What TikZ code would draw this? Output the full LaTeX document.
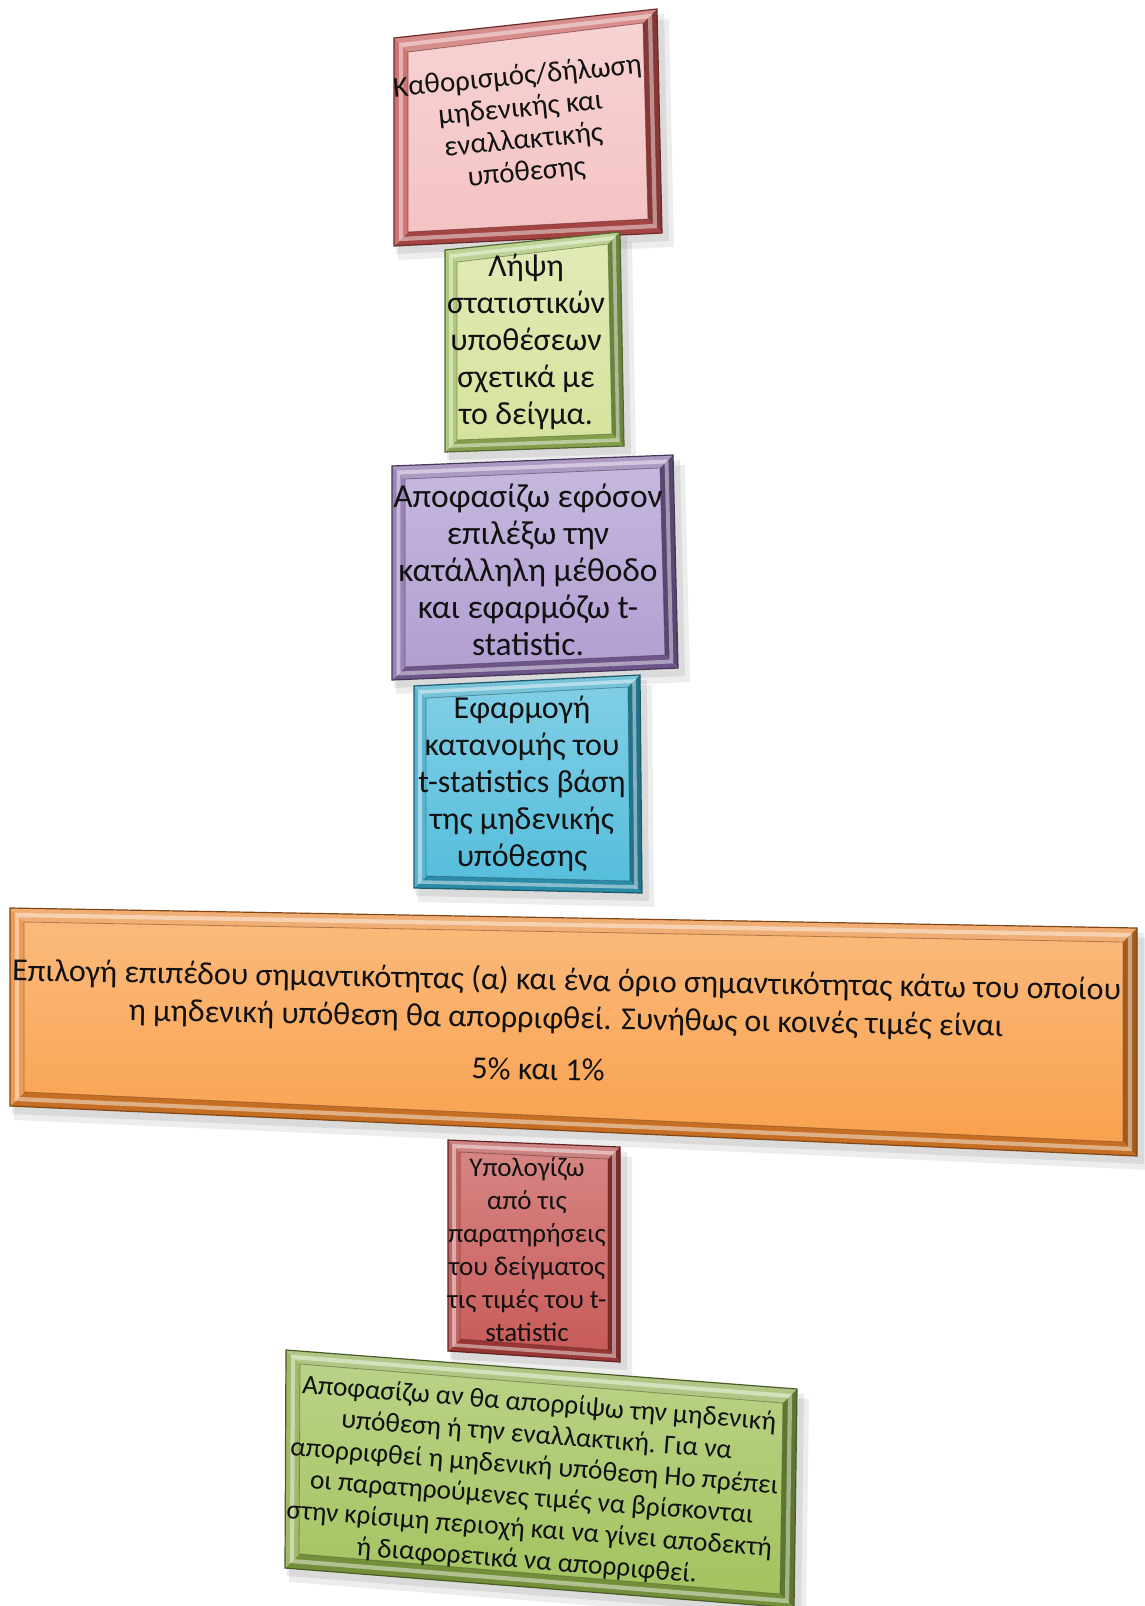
\documentclass[tikz,border=0pt]{standalone}
\usepackage{fontspec}
\setmainfont{Carlito}
\usetikzlibrary{calc}
\definecolor{faceA}{HTML}{F4C3C4}\definecolor{baseA}{HTML}{C0504D}
\definecolor{faceB}{HTML}{D6E39D}\definecolor{baseB}{HTML}{9BBB59}
\definecolor{faceC}{HTML}{B29FD2}\definecolor{baseC}{HTML}{8064A2}
\definecolor{faceD}{HTML}{56BEDC}\definecolor{baseD}{HTML}{31A3C4}
\definecolor{faceE}{HTML}{F9A24F}\definecolor{baseE}{HTML}{E8822A}
\definecolor{faceF}{HTML}{C85C5A}\definecolor{baseF}{HTML}{B0403E}
\definecolor{faceG}{HTML}{A3C35F}\definecolor{baseG}{HTML}{87A844}
\definecolor{ink}{HTML}{111111}
\tikzset{txt/.style={align=center,text=ink,inner sep=0pt}}
% #1 prefix, #2 TL, #3 TR, #4 BR, #5 BL, #6 bevel, #7 face, #8 base
\newcommand\bevbox[8]{%
 \coordinate (#1a) at (#2);\coordinate (#1b) at (#3);
 \coordinate (#1c) at (#4);\coordinate (#1d) at (#5);
 \coordinate (#1A) at ($(#1a)+(#6,#6)$);\coordinate (#1B) at ($(#1b)+(-#6,#6)$);
 \coordinate (#1C) at ($(#1c)+(-#6,-#6)$);\coordinate (#1D) at ($(#1d)+(#6,-#6)$);
 \coordinate (#1p) at ($(#1a)!.5!(#1A)$);\coordinate (#1q) at ($(#1b)!.5!(#1B)$);
 \coordinate (#1r) at ($(#1c)!.5!(#1C)$);\coordinate (#1s) at ($(#1d)!.5!(#1D)$);
 \fill[black,opacity=.07] ($(#1a)+(4,10)$) -- ($(#1b)+(12,10)$) -- ($(#1c)+(12,14)$) -- ($(#1d)+(4,14)$) -- cycle;
 \fill[black,opacity=.08] ($(#1a)+(2,5)$) -- ($(#1b)+(7,5)$) -- ($(#1c)+(7,8)$) -- ($(#1d)+(2,8)$) -- cycle;
 \shade[top color=#7!75!white,bottom color=#7] (#1A) -- (#1B) -- (#1C) -- (#1D) -- cycle;
 \fill[#8!65!white] (#1a) -- (#1b) -- (#1B) -- (#1A) -- cycle;
 \fill[#8!70!black] (#1b) -- (#1c) -- (#1C) -- (#1B) -- cycle;
 \fill[#8!85!black] (#1c) -- (#1d) -- (#1D) -- (#1C) -- cycle;
 \fill[#8!80!white] (#1d) -- (#1a) -- (#1A) -- (#1D) -- cycle;
 \draw[white,opacity=.45,line width=#6*0.3pt,line join=miter] (#1p) -- (#1q) -- (#1r) -- (#1s) -- cycle;
 \draw[#8!55!black,line width=1.2pt] (#1a) -- (#1b) -- (#1c) -- (#1d) -- cycle;
 \draw[#8!60!black,opacity=.6,line width=.8pt] (#1A) -- (#1B) -- (#1C) -- (#1D) -- cycle;
}
\begin{document}
\begin{tikzpicture}[x=1pt,y=-1pt]
\useasboundingbox (0,0) rectangle (1144,1606);
\fill[white] (0,0) rectangle (1144,1606);

\bevbox{k1}{394,38}{657,9}{662,233}{394,246}{14}{faceA}{baseA}
\node[txt,font=\fontsize{29}{32}\selectfont,rotate=5.5] (b1) at (522,125)
 {Καθορισμός/δήλωση\\μηδενικής και\\εναλλακτικής\\υπόθεσης};

\bevbox{k2}{445,250}{620,232}{624,446}{445,452}{12}{faceB}{baseB}
\node[txt,font=\fontsize{32}{37}\selectfont] (b2) at (526,342)
 {Λήψη\\στατιστικών\\υποθέσεων\\σχετικά με\\το δείγμα.};

\bevbox{k3}{392,466}{673,455}{678,668}{392,680}{13}{faceC}{baseC}
\node[txt,font=\fontsize{33.5}{37}\selectfont] (b3) at (528,570)
 {Αποφασίζω εφόσον\\επιλέξω την\\κατάλληλη μέθοδο\\και εφαρμόζω t-\\statistic.};

\bevbox{k4}{414,686}{640,675}{642,893}{414,888}{12}{faceD}{baseD}
\node[txt,font=\fontsize{32}{37}\selectfont] (b4) at (522,784)
 {Εφαρμογή\\κατανομής του\\t-statistics βάση\\της μηδενικής\\υπόθεσης};

\bevbox{k5}{10,908}{1137,928}{1137,1156}{10,1106}{14}{faceE}{baseE}
\node[txt,font=\fontsize{32}{38}\selectfont,rotate=-1] (b5) at (566,1024)
 {Επιλογή επιπέδου σημαντικότητας (α) και ένα όριο σημαντικότητας κάτω του οποίου\\
  η μηδενική υπόθεση θα απορριφθεί. Συνήθως οι κοινές τιμές είναι\hspace*{30pt}\\[14pt]
  5\% και 1\%\hspace*{54pt}};

\bevbox{k6}{448,1140}{620,1147}{620,1362}{448,1351}{12}{faceF}{baseF}
\node[txt,font=\fontsize{27}{33}\selectfont] (b6) at (527,1250)
 {Υπολογίζω\\από τις\\παρατηρήσεις\\του δείγματος\\τις τιμές του t-\\statistic};

\bevbox{k7}{286,1350}{797,1389}{794,1608}{285,1568}{14}{faceG}{baseG}
\node[txt,font=\fontsize{27.3}{31.5}\selectfont,rotate=-4.5] (b7) at (533,1483)
 {Αποφασίζω αν θα απορρίψω την μηδενική\\υπόθεση ή την εναλλακτική. Για να\\απορριφθεί η μηδενική υπόθεση Ho πρέπει\\οι παρατηρούμενες τιμές να βρίσκονται\\στην κρίσιμη περιοχή και να γίνει αποδεκτή\\ή διαφορετικά να απορριφθεί.};
\end{tikzpicture}
\end{document}
